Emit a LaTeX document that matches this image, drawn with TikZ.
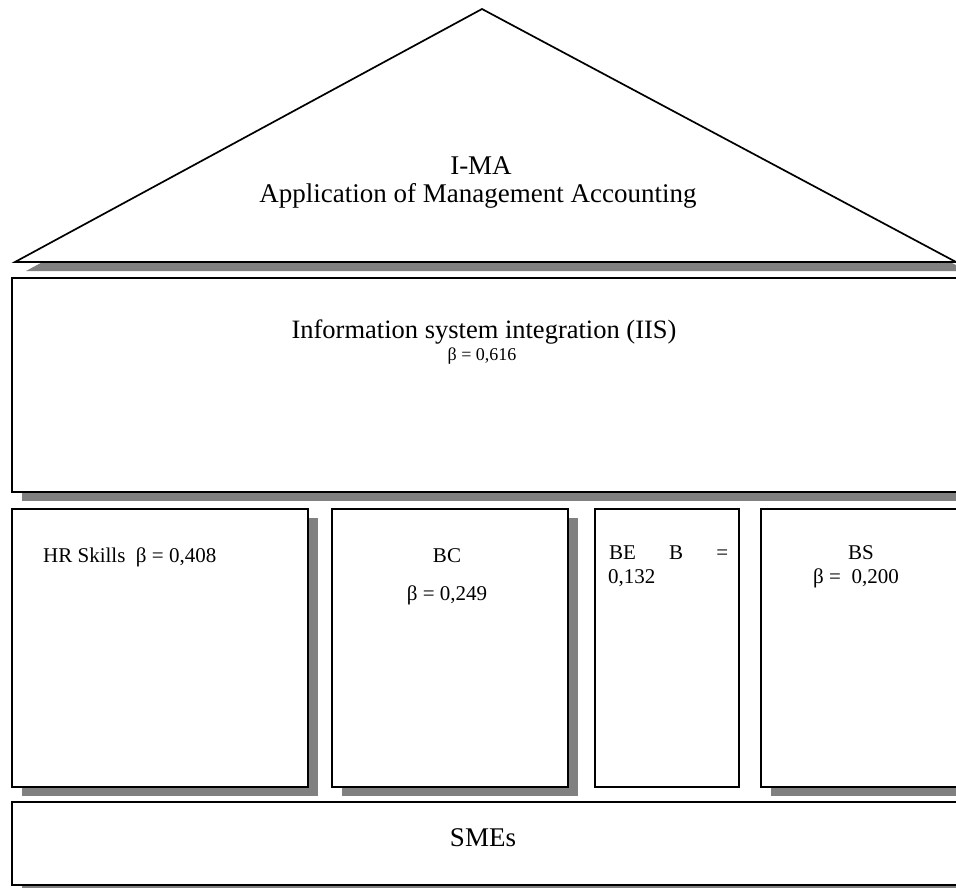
\documentclass[tikz,border=0pt]{standalone}
\usepackage{fontspec}
\setmainfont{Liberation Serif}
\usetikzlibrary{shadows}
\definecolor{shadowgray}{HTML}{808080}
\begin{document}
\begin{tikzpicture}[x=1pt,y=-1pt,
  box/.style={draw, line width=1.7pt, fill=white, rectangle, inner sep=0pt, anchor=north west},
  shadowed/.style={drop shadow={shadow xshift=10pt, shadow yshift=-9pt, fill=shadowgray, opacity=1}},
  txt/.style={anchor=base, inner sep=0pt, font=\fontsize{21}{25}\selectfont},
  bigtxt/.style={anchor=base, inner sep=0pt, font=\fontsize{27}{32}\selectfont}]
\useasboundingbox (0,0) rectangle (956,888);
\clip (0,0) rectangle (956,888);
% roof
\coordinate (apex) at (482,9);
\coordinate (bl) at (15,262);
\coordinate (br) at (956,262);
\fill[shadowgray] ([shift={(11,9)}]apex) -- ([shift={(11,9)}]bl) -- ([shift={(11,9)}]br) -- cycle;
\draw[line width=1.7pt, fill=white, line join=miter] (apex) -- (bl) -- (br) -- cycle;
% boxes
\node[box, shadowed, minimum width=980pt, minimum height=214pt] (iis) at (11,277) {};
\node[box, shadowed, minimum width=296pt, minimum height=278pt] (hr) at (11,508) {};
\node[box, shadowed, minimum width=236pt, minimum height=278pt] (bc) at (331,508) {};
\node[box, minimum width=144pt, minimum height=278pt] (be) at (594,508) {};
\node[box, shadowed, minimum width=200pt, minimum height=278pt] (bs) at (760,508) {};
\node[box, shadowed, minimum width=980pt, minimum height=83pt] (sme) at (11,801) {};
% texts
\node[bigtxt] (ima) at (481,175) {I-MA};
\node[bigtxt] (ama) at (478,202) {Application of Management Accounting};
\node[txt, font=\fontsize{26.5}{30}\selectfont] (iist) at (484,338) {Information system integration (IIS)};
\node[txt, font=\fontsize{18}{22}\selectfont] (iisb) at (482,360) {β = 0,616};
\node[txt, anchor=base west] (hrt) at (43,562) {HR Skills\ \ β = 0,408};
\node[txt] (bct) at (447,562) {BC};
\node[txt] (bcb) at (447,600) {β = 0,249};
\node[txt, anchor=base west] (bet) at (609,559) {\makebox[119pt][s]{BE B =}};
\node[txt, anchor=base west] (beb) at (608,583) {0,132};
\node[txt] (bst) at (861,559) {BS};
\node[txt] (bsb) at (856,583) {β =\ \ 0,200};
\node[bigtxt] (smet) at (483,846) {SMEs};
\end{tikzpicture}
\end{document}
